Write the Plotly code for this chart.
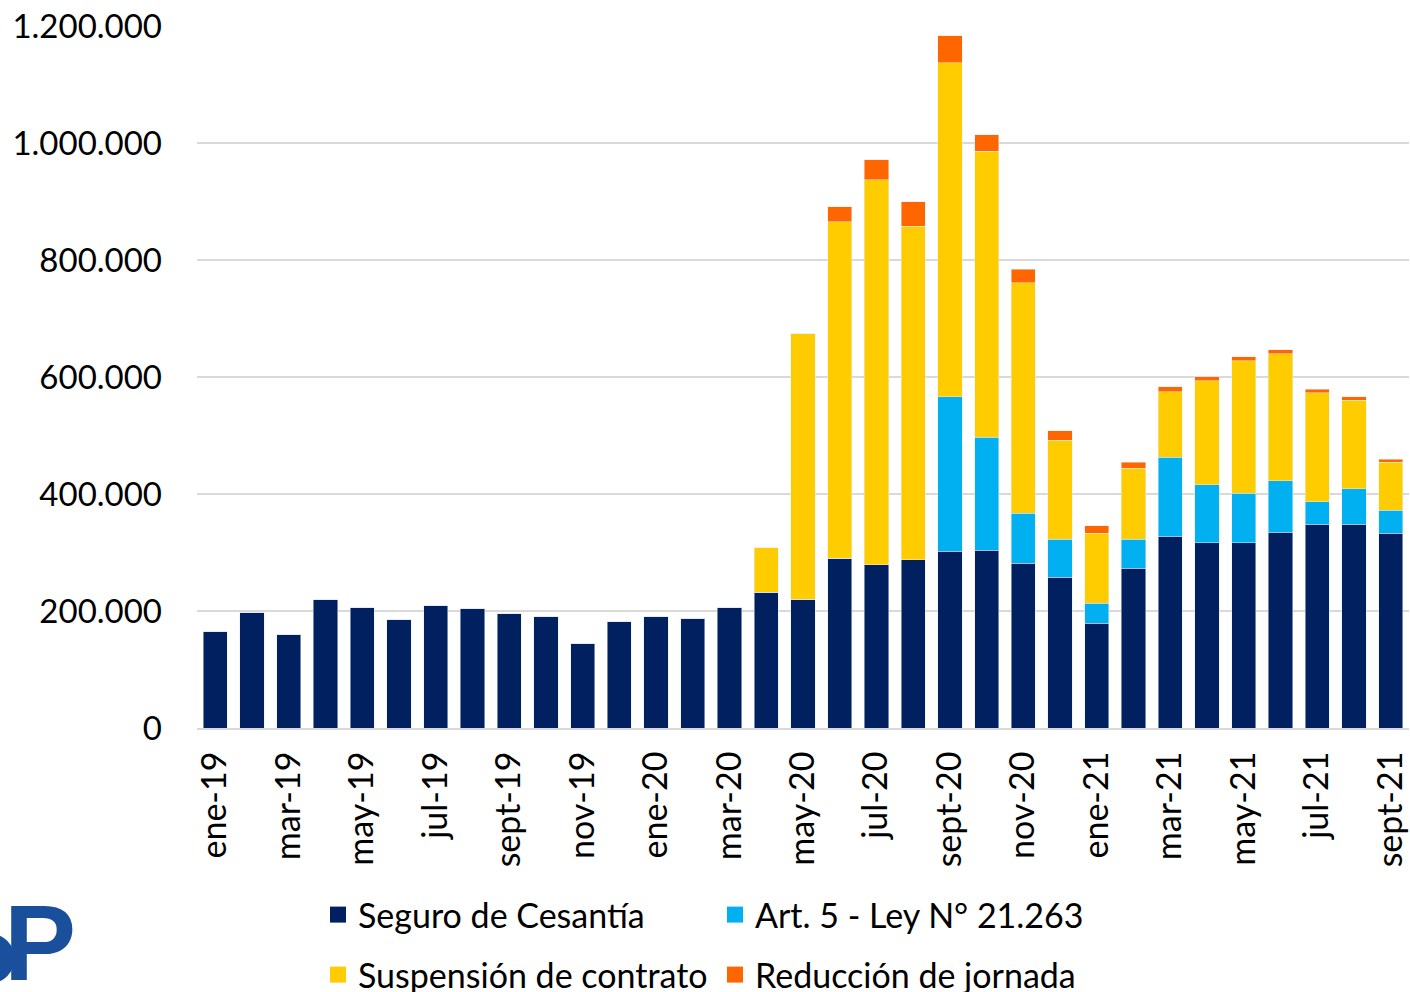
import plotly.graph_objects as go

months = ["ene", "feb", "mar", "abr", "may", "jun", "jul", "ago", "sept", "oct", "nov", "dic"]
categories = [f"{m}-{y}" for y in ["19", "20", "21"] for m in months][:33]

seguro = [165000, 198000, 159000, 219000, 206000, 185000, 210000, 205000, 195000, 190000,
          145000, 182000, 190000, 188000, 206000, 232000, 220000, 290000, 279000, 288000,
          302000, 304000, 282000, 258000, 179000, 273000, 328000, 317000, 317000, 335000,
          348000, 348000, 333000]
art5 = [0] * 20 + [264000, 193000, 85000, 65000, 34000, 50000, 135000, 99000, 84000, 88000,
                   39000, 61000, 39000]
suspension = [0] * 15 + [76000, 454000, 575000, 658000, 570000, 571000, 489000, 394000, 169000,
                         120000, 121000, 112000, 178000, 227000, 217000, 186000, 151000, 82000]
reduccion = [0] * 17 + [26000, 34000, 42000, 46000, 28000, 23000, 16000, 12500, 10000, 8600,
                        6300, 7000, 7000, 6000, 6000, 5000]

series_names = ["Seguro de Cesantía", "Art. 5 - Ley N° 21.263", "Suspensión de contrato", "Reducción de jornada"]
series_colors = ["#002060", "#00B0F0", "#FFCC00", "#FF6600"]
series_values = [seguro, art5, suspension, reduccion]
series_legends = ["legend", "legend", "legend2", "legend2"]

tick_vals = categories[::2]
y_ticks = [0, 200000, 400000, 600000, 800000, 1000000, 1200000]

FONT = "Lato"
LOGO_BLUE = "#1a4f9c"

fig = go.Figure()
for name, color, vals in zip(series_names, series_colors, series_values):
    fig.add_bar(x=categories, y=vals, name=name, marker_color=color, showlegend=False)
# legend entries with larger square swatches
for name, color, leg in zip(series_names, series_colors, series_legends):
    fig.add_scatter(x=[None], y=[None], mode="markers", name=name, legend=leg,
                    marker=dict(symbol="square", size=20, color=color), hoverinfo="skip")

L, R, T, B = 197, 1, 26, 264
W, H = 1410, 992
pw = W - L - R
ph = H - T - B

def px_x(p):
    return (p - L) / pw

def px_y(p):
    return (H - B - p) / ph

legend_common = dict(orientation="h", xanchor="left", yanchor="middle",
                     font=dict(family=FONT, size=34, color="#000000"),
                     entrywidth=352, entrywidthmode="pixels", itemsizing="trace",
                     bgcolor="rgba(0,0,0,0)", borderwidth=0, traceorder="normal")

fig.update_layout(
    width=W, height=H,
    barmode="stack", bargap=0.34,
    plot_bgcolor="white", paper_bgcolor="white",
    margin=dict(l=L, r=R, t=T, b=B, pad=0, autoexpand=False),
    separators=",.",
    font=dict(family=FONT, size=32, color="#000000"),
    showlegend=True,
    legend=dict(x=px_x(318), y=px_y(915), **legend_common),
    legend2=dict(x=px_x(318), y=px_y(975), **legend_common),
    xaxis=dict(type="category", categoryorder="array", categoryarray=categories,
               tickmode="array", tickvals=tick_vals, ticktext=tick_vals,
               tickangle=-90, ticks="", showgrid=False, automargin=False,
               showline=True, linecolor="#d9d9d9", linewidth=2,
               tickfont=dict(family=FONT, size=34, color="#000000"),
               ticklabelstandoff=8),
    yaxis=dict(range=[0, 1200000], tickmode="array", tickvals=y_ticks, automargin=False,
               tickformat=",d", showgrid=True, gridcolor="#d9d9d9", gridwidth=2,
               zeroline=False, showline=False, ticks="",
               tickfont=dict(family=FONT, size=33, color="#000000"),
               ticklabelstandoff=34),
)

# partial logo at bottom-left corner
fig.add_annotation(xref="paper", yref="paper", x=px_x(78), y=px_y(942),
                   xanchor="right", yanchor="middle", showarrow=False,
                   text="<b>P</b>", font=dict(family="Liberation Sans", size=108, color=LOGO_BLUE))
fig.add_shape(type="circle", xref="paper", yref="paper",
              x0=px_x(-28), x1=px_x(7), y0=px_y(976), y1=px_y(941),
              line=dict(color=LOGO_BLUE, width=15), fillcolor="rgba(0,0,0,0)")

fig.write_html("out.html", config={"displayModeBar": False},
               post_script="document.body.style.margin='0';document.body.style.overflow='hidden';")
